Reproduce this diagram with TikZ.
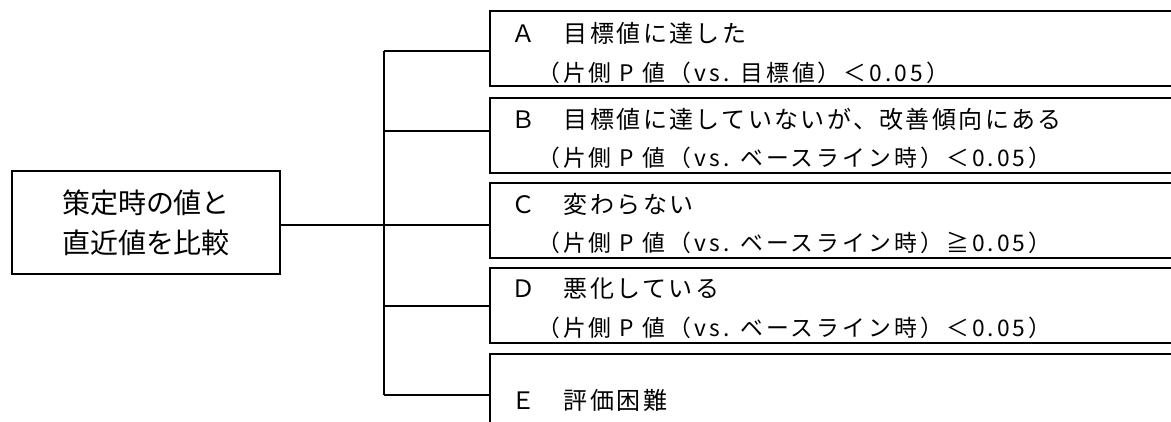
\documentclass[tikz,border=0pt]{standalone}
\usepackage{fontspec}
\newfontfamily\jp{Noto Sans CJK JP}
\newfontfamily\jpa{Noto Sans CJK JP}[LetterSpace=10]
\newfontfamily\jpb{Noto Sans CJK JP}[LetterSpace=13.5]
\begin{document}
\begin{tikzpicture}[x=1pt,y=-1pt,
  rbox/.style={draw, line width=1.8pt, minimum width=720pt, minimum height=75pt, anchor=north west, inner sep=0pt},
  srcbox/.style={draw, line width=1.8pt, minimum width=268pt, minimum height=103pt, align=center,
     font=\jp\fontsize{28}{40}\selectfont},
  lone/.style={anchor=west, inner sep=0pt, font=\jpa\fontsize{24}{24}\selectfont},
  ltwo/.style={anchor=west, inner sep=0pt, font=\jpb\fontsize{22.8}{24}\selectfont},
  conn/.style={line width=1.8pt}]
\useasboundingbox (0,0) rectangle (1171,421);
\clip (0,0) rectangle (1171,421);
\node[srcbox] (S) at (146,222.5) {策定時の値と\\直近値を比較};
\node[rbox] (A) at (489,10) {};
\node[rbox] (B) at (489,97) {};
\node[rbox] (C) at (489,182) {};
\node[rbox] (D) at (489,267) {};
\node[rbox] (E) at (489,353) {};
\node[lone] (A1) at (511,33) {Ａ　目標値に達した};
\node[ltwo] (A2) at (537,72.5) {（片側 P 値（vs. 目標値）＜0.05）};
\node[lone] (B1) at (511,119) {Ｂ　目標値に達していないが、改善傾向にある};
\node[ltwo] (B2) at (537,158) {（片側 P 値（vs. ベースライン時）＜0.05）};
\node[lone] (C1) at (511,204) {Ｃ　変わらない};
\node[ltwo] (C2) at (537,243) {（片側 P 値（vs. ベースライン時）≧0.05）};
\node[lone] (D1) at (511,289) {Ｄ　悪化している};
\node[ltwo] (D2) at (537,328) {（片側 P 値（vs. ベースライン時）＜0.05）};
\node[lone] (E1) at (511,400) {Ｅ　評価困難};
\coordinate (tA) at (384,51);
\coordinate (tB) at (384,131);
\coordinate (tC) at (384,225);
\coordinate (tD) at (384,306);
\coordinate (tE) at (384,395);
\draw[conn] (S.east |- tC) -- (tC);
\draw[conn] (tA) -- (tE);
\draw[conn] (tA) -- (tA -| A.west);
\draw[conn] (tB) -- (tB -| B.west);
\draw[conn] (tC) -- (tC -| C.west);
\draw[conn] (tD) -- (tD -| D.west);
\draw[conn] (tE) -- (tE -| E.west);
\end{tikzpicture}
\end{document}
